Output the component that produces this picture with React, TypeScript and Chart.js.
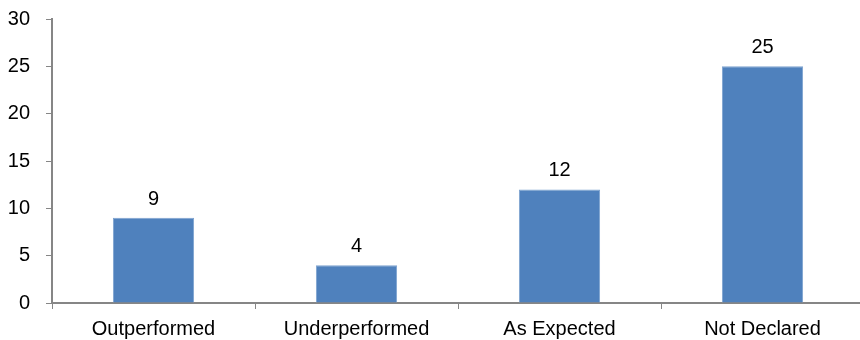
import React, { useEffect, useRef } from "react";
import { Chart, registerables } from "chart.js";

Chart.register(...registerables);

const categories = ["Outperformed", "Underperformed", "As Expected", "Not Declared"];
const values = [9, 4, 12, 25];
const yTicks = [0, 5, 10, 15, 20, 25, 30];

const FONT = "'Liberation Sans', Arial, sans-serif";
const AXIS = "#868686";
const FS = 20;

const dataLabels = {
  id: "dataLabels",
  afterDatasetsDraw(chart: any) {
    const ctx = chart.ctx;
    const meta = chart.getDatasetMeta(0);
    ctx.save();
    ctx.font = `${FS}px ${FONT}`;
    ctx.fillStyle = "#000";
    ctx.textAlign = "center";
    ctx.textBaseline = "alphabetic";
    meta.data.forEach((bar: any, i: number) => {
      ctx.fillText(String(values[i]), bar.x, bar.y - 13);
    });
    ctx.restore();
  },
};

export default function App() {
  const ref = useRef<HTMLCanvasElement>(null);
  useEffect(() => {
    const chart = new Chart(ref.current!, {
      type: "bar",
      data: {
        labels: categories,
        datasets: [
          {
            data: values,
            backgroundColor: "#4F81BD",
            borderColor: "#7EA3D0",
            borderWidth: 1,
            categoryPercentage: 1,
            barPercentage: 0.4,
          },
        ],
      },
      options: {
        animation: false,
        responsive: false,
        maintainAspectRatio: false,
        layout: { padding: { top: 19, right: 0, left: 0, bottom: 0 } },
        plugins: { legend: { display: false }, tooltip: { enabled: false } },
        scales: {
          x: {
            grid: { drawOnChartArea: false, drawTicks: true, tickLength: 6, tickWidth: 1, color: AXIS, offset: true },
            border: { color: AXIS, width: 2 },
            ticks: { font: { family: FONT, size: FS }, color: "#000", padding: 8, maxRotation: 0 },
            afterFit: (s: any) => { s.height = 37; },
          },
          y: {
            min: 0,
            max: 30,
            afterBuildTicks: (s: any) => { s.ticks = yTicks.map((v) => ({ value: v })); },
            grid: { drawOnChartArea: false, drawTicks: true, tickLength: 6, tickWidth: 1, color: AXIS },
            border: { color: AXIS, width: 2 },
            ticks: { font: { family: FONT, size: FS, lineHeight: 0.1 }, color: "#000", padding: 16 },
            afterFit: (s: any) => { s.width = 52; },
          },
        },
      },
      plugins: [dataLabels],
    });
    return () => chart.destroy();
  }, []);
  return (
    <div style={{ position: "fixed", left: 0, top: 0, width: 860, height: 340, background: "#fff", overflow: "hidden" }}>
      <canvas ref={ref} width={864} height={340} style={{ display: "block" }} />
    </div>
  );
}
